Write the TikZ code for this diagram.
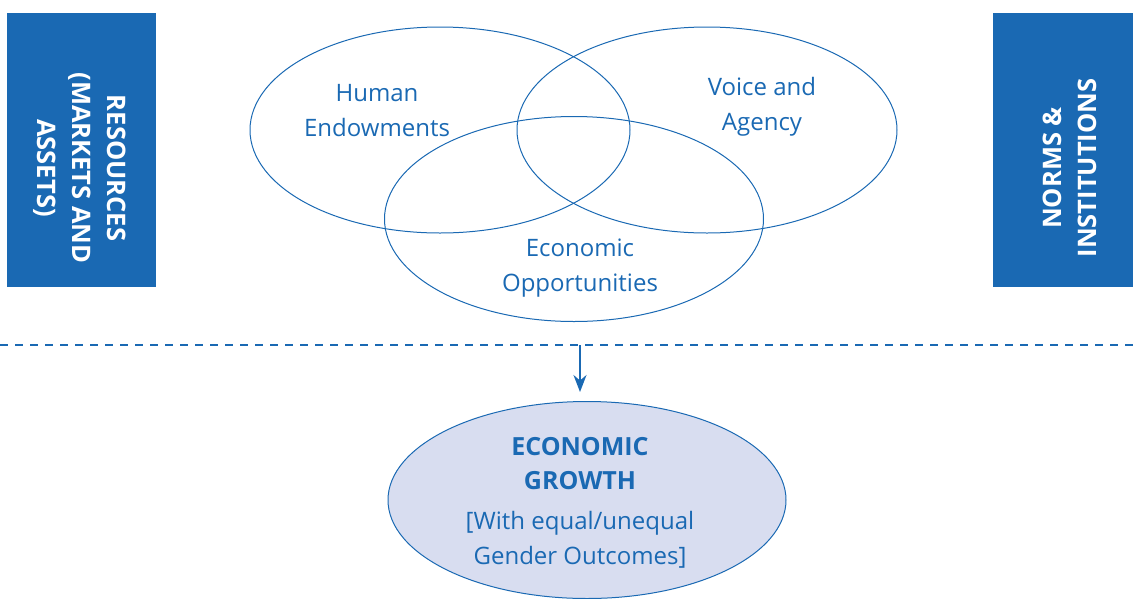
\documentclass[tikz,border=0pt]{standalone}
\usepackage{fontspec}
\setmainfont{Open Sans}
\usetikzlibrary{shapes.geometric,arrows.meta}
\definecolor{wbblue}{HTML}{1A69B3}
\definecolor{wbfill}{HTML}{D8DDF0}

\begin{document}
\begin{tikzpicture}[x=1pt,y=-1pt,inner sep=0pt,>={Stealth[length=17pt,width=13pt]}]
\tikzset{ring/.style={ellipse,draw=wbblue,line width=1pt},
  lbl/.style={text=wbblue,align=center,font=\fontsize{24}{35}\selectfont},
  head/.style={text=wbblue,align=center,font=\bfseries\fontsize{25}{34}\selectfont},
  pillar/.style={fill=wbblue},
  pillartext/.style={text=white,align=center,font=\bfseries\fontsize{25.5}{35}\selectfont}}
\useasboundingbox (0,0) rectangle (1133,598);
% side boxes
\node (res) at (81.5,150) [pillar,minimum width=149pt,minimum height=274pt] {};
\node (restext) at (80,168) [pillartext,rotate=-90] {RESOURCES\\(MARKETS AND\\ASSETS)};
\node (norms) at (1063,150) [pillar,minimum width=140pt,minimum height=274pt] {};
\node (normstext) at (1070,168) [pillartext,rotate=90] {NORMS \&\\INSTITUTIONS};
% three circles
\node (human) at (440,130) [ring,minimum width=380pt,minimum height=206pt] {};
\node (voice) at (707,130) [ring,minimum width=380pt,minimum height=206pt] {};
\node (econ) at (574,219) [ring,minimum width=379pt,minimum height=205pt] {};
\node (humantext) at (377,111) [lbl] {Human\\Endowments};
\node (voicetext) at (762,107) [lbl] {Voice and\\Agency};
\node (econtext) at (580,268) [lbl] {Economic\\Opportunities};
% dashed line and outcome
\coordinate (dl) at (0,345);
\coordinate (dr) at (1133,345);
\draw[wbblue,line width=1.5pt,dash pattern=on 8pt off 7pt] (dl) -- (dr);
\node (growth) at (587,500) [ring,fill=wbfill,minimum width=398pt,minimum height=197pt] {};
\node (growthhead) at (580,464) [head] {ECONOMIC\\GROWTH};
\node (growthtext) at (580,540) [lbl] {[With equal/unequal\\Gender Outcomes]};
\coordinate (top) at (580,345);
\draw[->,wbblue,line width=2pt,shorten >=9pt] (top) -- (top |- growth.north);
\end{tikzpicture}
\end{document}
